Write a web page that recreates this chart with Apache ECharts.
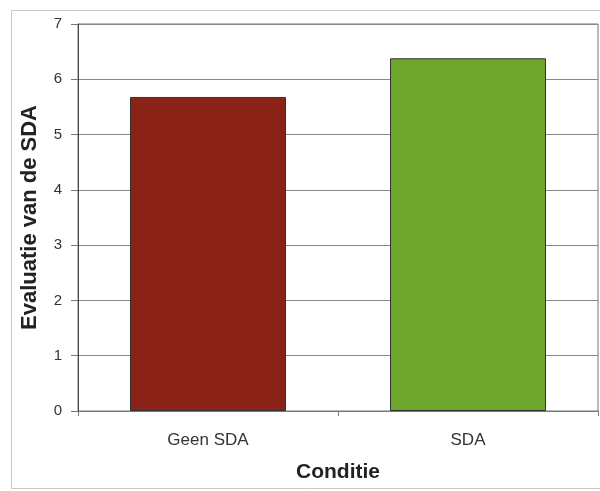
<!DOCTYPE html>
<html>
<head>
<meta charset="utf-8">
<script src="https://cdn.jsdelivr.net/npm/echarts@6/dist/echarts.min.js"></script>
<style>
html, body { margin: 0; padding: 0; background: #fff; }
#chart { width: 600px; height: 491px; }
</style>
</head>
<body>
<div id="chart"></div>
<script>
// categorieen en waarden
var condities = ['Geen SDA', 'SDA'];
var evaluatie = [5.68, 6.38];
var kleuren = ['#8a2218', '#6ea52b'];

var myChart = echarts.init(document.getElementById('chart'));

var option = {
	animation: false,
	backgroundColor: '#fff',
	graphic: [{
		type: 'rect',
		shape: { x: 11.5, y: 10.5, width: 600, height: 478 },
		style: { fill: 'none', stroke: '#c8c8c8', lineWidth: 1 },
		silent: true
	}],
	grid: {
		left: 78,
		right: 2,
		top: 24,
		bottom: 80,
		outerBoundsMode: 'none',
		show: true,
		borderColor: '#777',
		borderWidth: 1
	},
	xAxis: {
		type: 'category',
		data: condities,
		name: 'Conditie',
		nameLocation: 'middle',
		nameGap: 51,
		nameTextStyle: { fontFamily: 'Liberation Sans', fontWeight: 'bold', fontSize: 21, color: '#222' },
		axisLine: { lineStyle: { color: '#777', width: 1 } },
		axisTick: { show: true, length: 5, lineStyle: { color: '#777' } },
		axisLabel: { fontFamily: 'Liberation Sans', fontSize: 17, color: '#333', margin: 21 }
	},
	yAxis: {
		type: 'value',
		min: 0,
		max: 7,
		interval: 1,
		name: 'Evaluatie van de SDA',
		nameLocation: 'middle',
		nameGap: 37,
		nameTextStyle: { fontFamily: 'Liberation Sans', fontWeight: 'bold', fontSize: 22, color: '#222' },
		axisLine: { show: true, lineStyle: { color: '#444', width: 1 } },
		axisTick: { show: true, length: 7, lineStyle: { color: '#777' } },
		axisLabel: { fontFamily: 'Liberation Sans', fontSize: 15, color: '#333', margin: 16 },
		splitLine: { lineStyle: { color: '#888', width: 1 } }
	},
	series: [{
		type: 'bar',
		barWidth: '60%',
		data: evaluatie.map(function (v, i) {
			return { value: v, itemStyle: { color: kleuren[i] } };
		}),
		itemStyle: { borderColor: '#333', borderWidth: 1 }
	}]
};

myChart.setOption(option);
</script>
</body>
</html>
